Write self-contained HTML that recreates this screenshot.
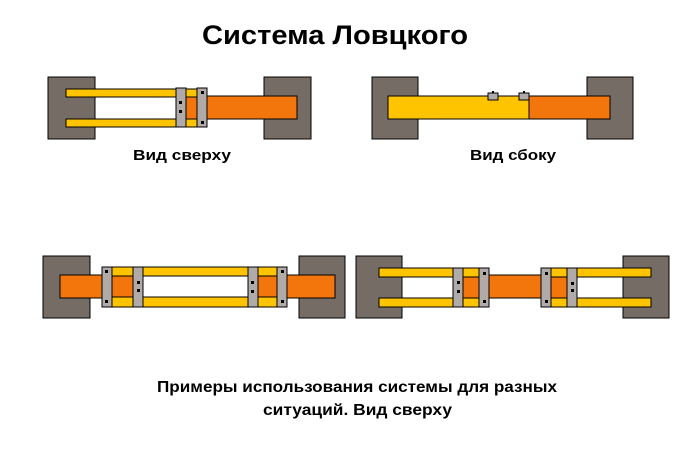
<!DOCTYPE html>
<html><head><meta charset="utf-8"><style>body{margin:0;background:#fff}svg{display:block}</style></head><body>
<svg width="700" height="450" xmlns="http://www.w3.org/2000/svg" font-family="Liberation Sans, sans-serif" font-weight="bold">
<g stroke="#000" stroke-width="1">
<!-- top-left -->
<rect x="48" y="77" width="47" height="62" fill="#756c66"/>
<rect x="264" y="77" width="47" height="62" fill="#756c66"/>
<rect x="186" y="96" width="111" height="23" fill="#f3760c"/>
<rect x="66" y="89" width="131" height="8" fill="#ffc400"/>
<rect x="66" y="119" width="131" height="8" fill="#ffc400"/>
<rect x="176" y="88" width="10" height="39" fill="#b0aaa9"/>
<rect x="197" y="88" width="10" height="39" fill="#b0aaa9"/>
<!-- top-right -->
<rect x="372" y="77" width="46" height="62" fill="#756c66"/>
<rect x="587" y="77" width="46" height="62" fill="#756c66"/>
<rect x="388" y="96" width="141" height="23" fill="#ffc400"/>
<rect x="529" y="96" width="81" height="23" fill="#f3760c"/>
<rect x="488" y="93" width="10" height="7" fill="#b0aaa9"/>
<rect x="519" y="93" width="10" height="7" fill="#b0aaa9"/>
<!-- bottom-left -->
<rect x="43" y="256" width="47" height="62" fill="#756c66"/>
<rect x="299" y="256" width="46" height="62" fill="#756c66"/>
<rect x="60" y="275" width="275" height="23" fill="#f3760c"/>
<rect x="102" y="267" width="185" height="9" fill="#ffc400"/>
<rect x="102" y="297" width="185" height="10" fill="#ffc400"/>
<rect x="143" y="276" width="105" height="21" fill="#fff"/>
<rect x="102" y="267" width="10" height="40" fill="#b0aaa9"/>
<rect x="133" y="267" width="10" height="40" fill="#b0aaa9"/>
<rect x="248" y="267" width="10" height="40" fill="#b0aaa9"/>
<rect x="277" y="267" width="10" height="40" fill="#b0aaa9"/>
<!-- bottom-right -->
<rect x="356" y="256" width="46" height="62" fill="#756c66"/>
<rect x="623" y="256" width="46" height="62" fill="#756c66"/>
<rect x="463" y="275" width="104" height="23" fill="#f3760c"/>
<rect x="379" y="268" width="110" height="9" fill="#ffc400"/>
<rect x="379" y="298" width="110" height="9" fill="#ffc400"/>
<rect x="541" y="268" width="110" height="9" fill="#ffc400"/>
<rect x="541" y="298" width="110" height="9" fill="#ffc400"/>
<rect x="453" y="268" width="10" height="39" fill="#b0aaa9"/>
<rect x="479" y="268" width="10" height="39" fill="#b0aaa9"/>
<rect x="541" y="268" width="10" height="39" fill="#b0aaa9"/>
<rect x="567" y="268" width="10" height="39" fill="#b0aaa9"/>
</g>
<g fill="#000">
<rect x="179" y="101" width="3" height="3"/><rect x="179" y="110" width="3" height="3"/>
<rect x="201" y="91" width="3" height="3"/><rect x="201" y="121" width="3" height="3"/>
<rect x="492" y="91" width="2" height="2"/><rect x="523" y="91" width="2" height="2"/>
<rect x="105" y="270" width="3" height="3"/><rect x="105" y="300" width="3" height="3"/>
<rect x="137" y="281" width="3" height="3"/><rect x="137" y="289" width="3" height="3"/>
<rect x="251" y="281" width="3" height="3"/><rect x="251" y="290" width="3" height="3"/>
<rect x="281" y="270" width="3" height="3"/><rect x="281" y="300" width="3" height="3"/>
<rect x="457" y="281" width="3" height="3"/><rect x="457" y="290" width="3" height="3"/>
<rect x="483" y="272" width="3" height="3"/><rect x="483" y="300" width="3" height="3"/>
<rect x="545" y="272" width="3" height="3"/><rect x="545" y="300" width="3" height="3"/>
<rect x="571" y="282" width="3" height="3"/><rect x="571" y="289" width="3" height="3"/>
</g>
<text x="202" y="44" font-size="27" textLength="266" lengthAdjust="spacingAndGlyphs">Система Ловцкого</text>
<text x="133" y="160" font-size="15" textLength="98" lengthAdjust="spacingAndGlyphs">Вид сверху</text>
<text x="470" y="160" font-size="15" textLength="86" lengthAdjust="spacingAndGlyphs">Вид сбоку</text>
<text x="157" y="392" font-size="15.5" textLength="400" lengthAdjust="spacingAndGlyphs">Примеры использования системы для разных</text>
<text x="263" y="415" font-size="15.5" textLength="189" lengthAdjust="spacingAndGlyphs">ситуаций. Вид сверху</text>
</svg>
</body></html>
